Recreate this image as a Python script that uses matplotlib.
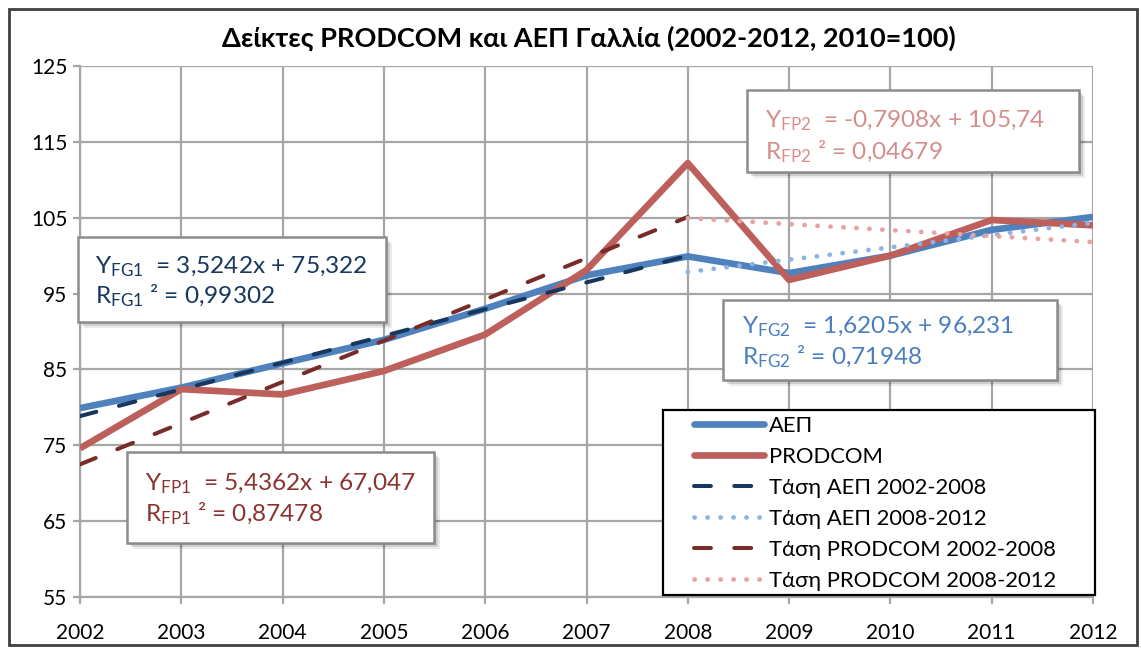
import matplotlib
matplotlib.use("Agg")
import matplotlib.pyplot as plt
from matplotlib.patches import Rectangle
from matplotlib.lines import Line2D
import numpy as np

plt.rcParams['font.family'] = ['Lato', 'DejaVu Sans']
plt.rcParams['mathtext.fontset'] = 'custom'
plt.rcParams['mathtext.rm'] = 'Lato'
plt.rcParams['mathtext.it'] = 'Lato:italic'
plt.rcParams['mathtext.bf'] = 'Lato:bold'

# data (2010 = 100)
years = [2002, 2003, 2004, 2005, 2006, 2007, 2008, 2009, 2010, 2011, 2012]
aep = [79.9, 82.6, 85.8, 88.9, 93.0, 97.4, 99.9, 97.7, 100.0, 103.4, 105.1]
prodcom = [74.6, 82.4, 81.7, 84.8, 89.6, 98.1, 112.2, 96.8, 100.0, 104.7, 104.0]

# trend lines as printed on the chart (x = 1, 2, ... within each period)
trend_names = ["Τάση ΑΕΠ 2002-2008", "Τάση ΑΕΠ 2008-2012",
               "Τάση PRODCOM 2002-2008", "Τάση PRODCOM 2008-2012"]
trend_start = [2002, 2008, 2002, 2008]
trend_end = [2008, 2012, 2008, 2012]
trend_slope = [3.5242, 1.6205, 5.4362, -0.7908]
trend_intercept = [75.322, 96.231, 67.047, 105.74]

W, H = 1141, 648
fig = plt.figure(figsize=(W / 100, H / 100), dpi=100)
fig.patch.set_facecolor('white')


def fx(px):
    return px / W


def fy(py):
    return 1 - py / H


ax = fig.add_axes([fx(80), fy(597), fx(1093) - fx(80), fy(66) - fy(597)])

GRID = '#a6a6a6'
ax.set_xlim(2002, 2012)
ax.set_ylim(55, 125)
ax.set_xticks(years)
ax.set_yticks(range(55, 126, 10))
ax.grid(True, color=GRID, lw=1.6)
for s in ax.spines.values():
    s.set_color(GRID)
    s.set_linewidth(1.6)
ax.spines['right'].set_visible(False)
ax.spines['top'].set_visible(False)
ax.tick_params(colors=GRID, labelcolor='black', labelsize=15, length=5, width=1.6)
ax.tick_params(axis='x', pad=14)
ax.tick_params(axis='y', pad=4)
ax.set_axisbelow(True)

ax.plot(years, aep, color='#4f81bd', lw=4.8, solid_capstyle='butt', zorder=3)
ax.plot(years, prodcom, color='#bd5f5b', lw=4.8, solid_capstyle='butt', zorder=3)

styles = [
    dict(color='#17375e', lw=2.9, linestyle=(0, (4.2, 5.8)), dash_capstyle='round'),
    dict(color='#8db3e2', lw=3.4, linestyle=(0, (0.05, 2.7)), dash_capstyle='round'),
    dict(color='#772c2a', lw=2.9, linestyle=(0, (4.2, 5.8)), dash_capstyle='round'),
    dict(color='#e6a3a1', lw=3.4, linestyle=(0, (0.05, 2.7)), dash_capstyle='round'),
]
for i in range(4):
    xs = np.arange(trend_start[i], trend_end[i] + 1)
    k = np.arange(1, len(xs) + 1)
    ys = trend_slope[i] * k + trend_intercept[i]
    ax.plot(xs, ys, zorder=4, **styles[i])

# legend
ax.add_patch(Rectangle((fx(663), fy(595)), fx(1095) - fx(663), fy(410) - fy(595),
                       transform=fig.transFigure, facecolor='white',
                       edgecolor='black', lw=1.6, zorder=6, clip_on=False))
handles = [Line2D([], [], color='#4f81bd', lw=4.8, solid_capstyle='round'),
           Line2D([], [], color='#bd5f5b', lw=4.8, solid_capstyle='round')]
for st in styles:
    handles.append(Line2D([], [], **st))
labels = ["ΑΕΠ", "PRODCOM"] + trend_names
leg = ax.legend(handles, labels, loc='upper left',
                bbox_to_anchor=(fx(694), fy(416)), bbox_transform=fig.transFigure,
                frameon=False, fontsize=15.8, handlelength=3.2, handletextpad=0.2,
                labelspacing=0.5, borderpad=0, borderaxespad=0)
leg.set_zorder(7)

# title
fig.text(fx(589), fy(47), "Δείκτες PRODCOM και ΑΕΠ Γαλλία (2002-2012, 2010=100)",
         ha='center', va='baseline', fontsize=19.5, fontweight='bold')


def eq_box(x0, y0, x1, y1, tx, b1, b2, line1, line2, color):
    for d, a in [(6, 0.08), (4, 0.12), (2, 0.18)]:
        fig.patches.append(Rectangle((fx(x0 + d), fy(y1 + d)), fx(x1 - x0), fy(y0) - fy(y1),
                                     transform=fig.transFigure, facecolor='black',
                                     edgecolor='none', alpha=a, zorder=8))
    fig.patches.append(Rectangle((fx(x0), fy(y1)), fx(x1 - x0), fy(y0) - fy(y1),
                                 transform=fig.transFigure, facecolor='white',
                                 edgecolor='#8c8c8c', lw=1.8, zorder=9))
    fig.text(fx(tx), fy(b1), line1, color=color, fontsize=17.6, va='baseline', zorder=10)
    fig.text(fx(tx), fy(b2), line2, color=color, fontsize=17.6, va='baseline', zorder=10)


eq_box(78, 237, 386, 322, 95, 273, 303,
       r"Y$_{\mathrm{FG1}}$  = 3,5242x + 75,322", r"R$_{\mathrm{FG1}}$ ² = 0,99302", '#17375e')
eq_box(127, 452, 434, 543, 145, 490, 521,
       r"Y$_{\mathrm{FP1}}$  = 5,4362x + 67,047", r"R$_{\mathrm{FP1}}$ ² = 0,87478", '#8b3330')
eq_box(747, 90, 1079, 172, 765, 127, 159,
       r"Y$_{\mathrm{FP2}}$  = -0,7908x + 105,74", r"R$_{\mathrm{FP2}}$ ² = 0,04679", '#d48f8c')
eq_box(723, 300, 1057, 380, 742, 333, 364,
       r"Y$_{\mathrm{FG2}}$  = 1,6205x + 96,231", r"R$_{\mathrm{FG2}}$ ² = 0,71948", '#4a7ebf')

# chart border
fig.patches.append(Rectangle((fx(9), fy(645)), fx(1128), fy(9) - fy(645),
                             transform=fig.transFigure, facecolor='none',
                             edgecolor='#404040', lw=2, zorder=20))

fig.savefig("out.png", dpi=100)
